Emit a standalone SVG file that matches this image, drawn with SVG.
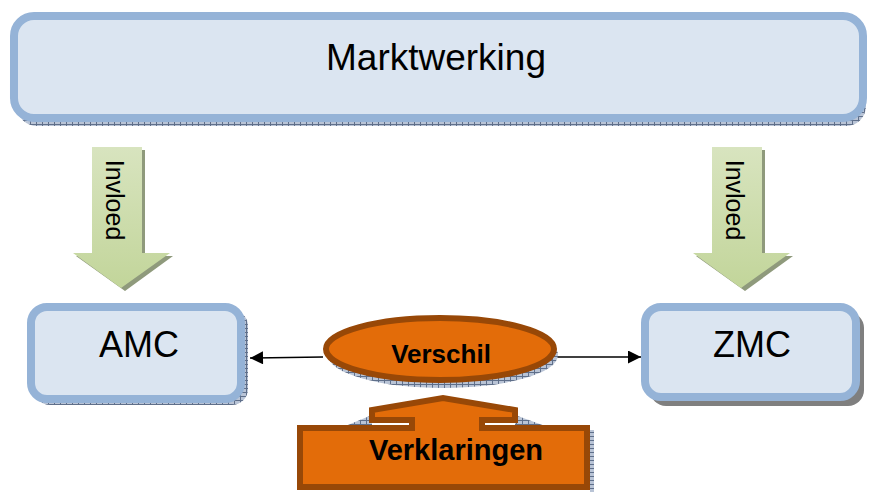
<svg xmlns="http://www.w3.org/2000/svg" width="869" height="492" viewBox="0 0 869 492">
<defs>
<pattern id="hatch" width="6" height="4" patternUnits="userSpaceOnUse">
<rect width="6" height="4" fill="#b9c4d6"/>
<path d="M0 0.5H6M0.5 0V4" stroke="#5f6f8a" stroke-width="1"/>
</pattern>
<linearGradient id="grn" x1="0" y1="0" x2="0" y2="1">
<stop offset="0" stop-color="#d8e4bf"/>
<stop offset="1" stop-color="#c2d59a"/>
</linearGradient>
<marker id="ah" viewBox="0 0 10 10" refX="10" refY="5" markerWidth="15" markerHeight="13" markerUnits="userSpaceOnUse" orient="auto">
<path d="M0 0L10 5L0 10Z" fill="#000"/>
</marker>
<style>
.box{fill:#dbe5f1;stroke:#95b3d7;stroke-width:8}
.lbl{font-family:"Liberation Sans",Arial,sans-serif;fill:#000;text-anchor:middle}
.org{fill:#e36c09;stroke:#984807;stroke-width:6;stroke-linejoin:miter}
.bold{font-weight:bold}
.conn{stroke:#000;stroke-width:1.5;fill:none}
.gshadow{fill:#8f9a7c}
</style>
</defs>

<g id="marktwerking">
<rect x="17" y="20" width="849" height="106" rx="20" fill="url(#hatch)"/>
<rect x="14" y="16" width="849" height="102" rx="20" class="box"/>
<text x="436" y="70" font-size="37" class="lbl">Marktwerking</text>
</g>

<g id="invloed-left">
<path d="M95 150H145V256H173L125 291L76 256H95Z" class="gshadow"/>
<path d="M92 147H142V253H170L121 288L73 253H92Z" fill="url(#grn)"/>
<text transform="translate(106 200) rotate(90)" font-size="25" class="lbl">Invloed</text>
</g>

<g id="invloed-right">
<path d="M715 150H765V256H793L745 291L696 256H715Z" class="gshadow"/>
<path d="M712 147H762V253H790L741 288L693 253H712Z" fill="url(#grn)"/>
<text transform="translate(726 200) rotate(90)" font-size="25" class="lbl">Invloed</text>
</g>

<g id="amc">
<rect x="34" y="310" width="214" height="95" rx="16" fill="url(#hatch)"/>
<rect x="31" y="307" width="210" height="92" rx="16" class="box"/>
<text x="139" y="357" font-size="36" class="lbl">AMC</text>
</g>

<g id="zmc">
<rect x="650" y="312" width="214" height="94" rx="16" fill="#7f7f7f"/>
<rect x="645" y="307" width="211" height="90" rx="16" class="box"/>
<text x="752" y="357" font-size="36" class="lbl">ZMC</text>
</g>

<g id="connectors">
<line x1="323" y1="357" x2="250" y2="358" class="conn" marker-end="url(#ah)"/>
<line x1="557" y1="357" x2="641" y2="357" class="conn" marker-end="url(#ah)"/>
</g>

<g id="verschil">
<ellipse cx="443" cy="355" rx="115" ry="33" fill="url(#hatch)"/>
<ellipse cx="440" cy="349" rx="114" ry="31" class="org"/>
<text x="441" y="363" font-size="26" class="lbl bold">Verschil</text>
</g>

<g id="verklaringen">
<path d="M343 427L372 415V427ZM515 415L548 427H515ZM590 430H594V492H590Z" fill="url(#hatch)"/>
<path d="M300 487V428H412V420H372V410L443 398L515 410V420H482V428H587V487Z" class="org"/>
<text x="456" y="460" font-size="29" class="lbl bold">Verklaringen</text>
</g>
</svg>
